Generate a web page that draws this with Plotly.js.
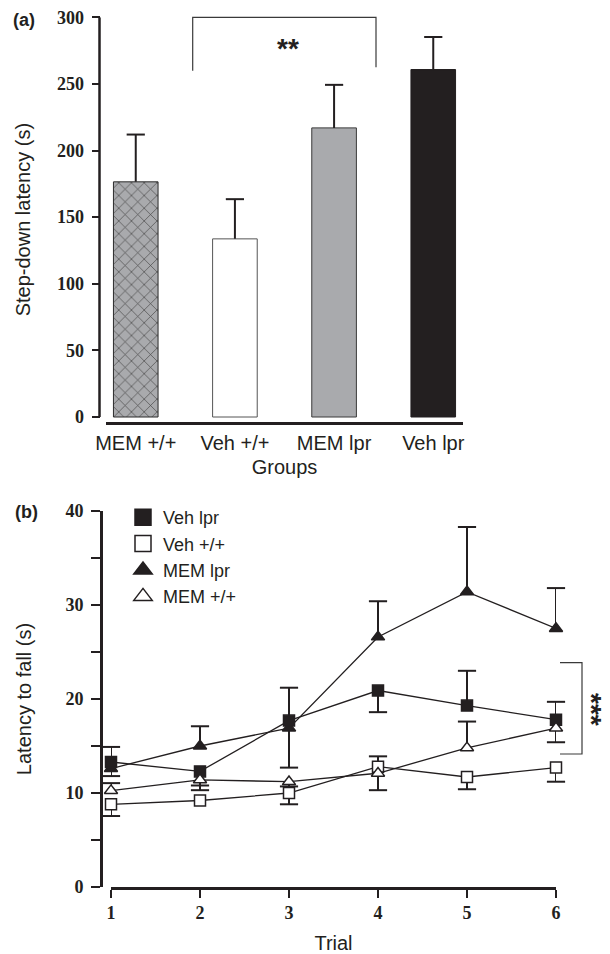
<!DOCTYPE html>
<html>
<head>
<meta charset="utf-8">
<script src="https://cdn.plot.ly/plotly-3.0.1.min.js"></script>
<style>html,body{margin:0;padding:0;background:#fff;}#chart{width:610px;height:954px;}</style>
</head>
<body>
<div id="chart"></div>
<script>
// ---------- Panel (a) data ----------
const groups = ['MEM +/+', 'Veh +/+', 'MEM lpr', 'Veh lpr'];
const stepDownLatency = [176.5, 133.7, 217.0, 260.8];
const stepDownSem = [35.5, 29.8, 32.3, 24.4];

// ---------- Panel (b) data ----------
const trials = [1, 2, 3, 4, 5, 6];
const vehLpr      = [13.3, 12.3, 17.7, 20.9, 19.3, 17.8];
const vehLprUp    = [1.6, 0, 3.5, 0, 3.7, 1.9];
const vehLprDown  = [0, 1.5, 0, 2.3, 0, 0];
const vehWt       = [8.8, 9.2, 10.0, 12.8, 11.7, 12.7];
const vehWtUp     = [0, 0, 0, 1.1, 0, 0];
const vehWtDown   = [1.25, 0, 1.2, 0, 1.3, 1.5];
const memLpr      = [12.6, 15.0, 16.9, 26.6, 31.4, 27.5];
const memLprUp    = [0, 2.1, 0, 3.8, 6.9, 4.3];
const memLprDown  = [0.8, 0, 4.2, 0, 0, 0];
const memWt       = [10.25, 11.4, 11.2, 12.1, 14.8, 16.9];
const memWtUp     = [0.8, 0, 0, 0, 2.8, 0];
const memWtDown   = [0, 1.1, 0.5, 1.8, 0, 1.5];

const INK = '#231f20';
const W = 610, H = 954;
const px = x => x / W;
const py = y => 1 - y / H;
const sans = 'Liberation Sans, Arial, sans-serif';
const serif = 'Liberation Serif, Times New Roman, serif';

const traces = [];

// Bars
traces.push({
  type: 'bar', x: groups, y: stepDownLatency, xaxis: 'x', yaxis: 'y',
  width: 0.45, showlegend: false, hoverinfo: 'skip',
  marker: {
    color: ['#a9aaad', '#ffffff', '#a9aaad', INK],
    line: {color: ['#2b2b2b', '#555555', '#3a3a3a', INK], width: 1},
    pattern: {shape: ['x', '', '', ''], fgcolor: INK, fgopacity: 1, size: 9, solidity: 0.14, fillmode: 'overlay'}
  },
  error_y: {type: 'data', symmetric: false, array: stepDownSem, arrayminus: stepDownSem.map(() => 0),
            width: 0, thickness: 2, color: INK}
});
// Bar error caps
traces.push({
  type: 'scatter', mode: 'markers', x: groups, y: stepDownLatency.map((v, i) => v + stepDownSem[i]),
  xaxis: 'x', yaxis: 'y', showlegend: false, hoverinfo: 'skip', cliponaxis: false,
  marker: {symbol: 'line-ew', size: 13, line: {color: INK, width: 2}}
});

// Error caps for panel (b)
function caps(vals, up, down) {
  const xs = [], ys = [];
  vals.forEach((v, i) => {
    if (up[i] > 0) { xs.push(trials[i]); ys.push(v + up[i]); }
    if (down[i] > 0) { xs.push(trials[i]); ys.push(v - down[i]); }
  });
  return {type: 'scatter', mode: 'markers', x: xs, y: ys, xaxis: 'x2', yaxis: 'y2',
          showlegend: false, hoverinfo: 'skip', cliponaxis: false,
          marker: {symbol: 'line-ew', size: 13, line: {color: INK, width: 2}}};
}
traces.push(caps(memLpr, memLprUp, memLprDown));
traces.push(caps(vehLpr, vehLprUp, vehLprDown));
traces.push(caps(vehWt, vehWtUp, vehWtDown));
traces.push(caps(memWt, memWtUp, memWtDown));

function series(name, vals, up, down, symbol, fill, size) {
  return {
    type: 'scatter', mode: 'lines+markers', name: name, x: trials, y: vals,
    xaxis: 'x2', yaxis: 'y2', showlegend: false, cliponaxis: false, hoverinfo: 'skip',
    line: {color: INK, width: 1.3},
    marker: {symbol: symbol, size: size, color: fill, line: {color: INK, width: 1.5}},
    error_y: {type: 'data', symmetric: false, array: up, arrayminus: down, width: 0, thickness: 2, color: INK}
  };
}
traces.push(series('MEM lpr', memLpr, memLprUp, memLprDown, 'triangle-up', INK, 11.5));
traces.push(series('Veh lpr', vehLpr, vehLprUp, vehLprDown, 'square', INK, 11));
traces.push(series('Veh +/+', vehWt, vehWtUp, vehWtDown, 'square', '#ffffff', 11));
traces.push(series('MEM +/+', memWt, memWtUp, memWtDown, 'triangle-up', '#ffffff', 11.5));

// Legend entries
function legendEntry(name, symbol, fill) {
  return {type: 'scatter', mode: 'markers', name: name, x: [null], y: [null], xaxis: 'x2', yaxis: 'y2',
          showlegend: true, hoverinfo: 'skip',
          marker: {symbol: symbol, size: 16, color: fill, line: {color: INK, width: 1.5}}};
}
traces.push(legendEntry('Veh lpr', 'square', INK));
traces.push(legendEntry('Veh +/+', 'square', '#ffffff'));
traces.push(legendEntry('MEM lpr', 'triangle-up', INK));
traces.push(legendEntry('MEM +/+', 'triangle-up', '#ffffff'));

const tickFontNum = {family: serif, size: 18, color: INK, weight: 'bold'};
const titleFont = {family: sans, size: 20, color: INK};

const layout = {
  width: W, height: H,
  margin: {l: 0, r: 0, t: 0, b: 0},
  paper_bgcolor: '#ffffff', plot_bgcolor: 'rgba(0,0,0,0)',
  font: {family: sans, color: INK},
  showlegend: true,
  legend: {x: px(123), y: py(499), xanchor: 'left', yanchor: 'top', bgcolor: 'rgba(0,0,0,0)',
           font: {family: sans, size: 18, color: INK}, tracegroupgap: 0},
  xaxis: {
    domain: [px(106), px(463)], range: [-0.3, 3.3], type: 'category', anchor: 'y',
    showline: true, linewidth: 2.5, linecolor: INK, ticks: 'outside', ticklen: 1,
    tickcolor: 'rgba(0,0,0,0)', tickfont: {family: sans, size: 20, color: INK},
    showgrid: false, zeroline: false,
    title: {text: 'Groups', font: titleFont, standoff: 8}
  },
  yaxis: {
    domain: [py(422), py(17.3)], range: [-3.75, 300], anchor: 'free', position: px(99.5),
    showline: false, ticks: 'outside', ticklen: 8, tickwidth: 2, tickcolor: INK,
    tickvals: [0, 50, 100, 150, 200, 250, 300], tickfont: tickFontNum, ticklabelstandoff: 4,
    showgrid: false, zeroline: false,
    title: {text: 'Step-down latency (s)', font: titleFont, standoff: 19}
  },
  xaxis2: {
    domain: [px(111), px(556)], range: [1, 6], anchor: 'y2',
    showline: true, linewidth: 2.5, linecolor: INK, ticks: 'outside', ticklen: 8, tickwidth: 2,
    tickcolor: INK, tickvals: trials, tickfont: tickFontNum,
    showgrid: false, zeroline: false,
    title: {text: 'Trial', font: titleFont, standoff: 14}
  },
  yaxis2: {
    domain: [py(887), py(511)], range: [0, 40], anchor: 'free', position: px(101),
    showline: true, linewidth: 2.5, linecolor: INK, ticks: 'outside', ticklen: 9, tickwidth: 2,
    tickcolor: INK, tickvals: [0, 5, 10, 15, 20, 25, 30, 35, 40],
    ticktext: ['0', '', '10', '', '20', '', '30', '', '40'], tickfont: tickFontNum, ticklabelstandoff: 4,
    showgrid: false, zeroline: false,
    title: {text: 'Latency to fall (s)', font: titleFont, standoff: 27}
  },
  shapes: [
    {type: 'line', xref: 'paper', yref: 'y', x0: px(99.5), x1: px(99.5), y0: 0, y1: 300,
     line: {color: INK, width: 2.5}},
    {type: 'path', xref: 'paper', yref: 'paper',
     path: `M ${px(192.7)},${py(70.7)} V ${py(17.3)} H ${px(376)} V ${py(67.3)}`,
     line: {color: '#3a3a3a', width: 1.2}},
    {type: 'path', xref: 'paper', yref: 'paper',
     path: `M ${px(560)},${py(662.7)} H ${px(582)} V ${py(754)} H ${px(560)}`,
     line: {color: '#3a3a3a', width: 1.2}}
  ],
  annotations: [
    {text: '(a)', xref: 'paper', yref: 'paper', x: px(11), y: py(19.5), xanchor: 'left', yanchor: 'middle',
     showarrow: false, font: {family: sans, size: 18, color: INK, weight: 'bold'}},
    {text: '(b)', xref: 'paper', yref: 'paper', x: px(13), y: py(512), xanchor: 'left', yanchor: 'middle',
     showarrow: false, font: {family: sans, size: 18, color: INK, weight: 'bold'}},
    {text: '**', xref: 'paper', yref: 'paper', x: px(288), y: py(49), xanchor: 'center', yanchor: 'middle',
     showarrow: false, font: {family: sans, size: 28, color: INK, weight: 'bold'}},
    {text: '***', xref: 'paper', yref: 'paper', x: px(592), y: py(709), xanchor: 'center', yanchor: 'middle',
     textangle: 90, showarrow: false, font: {family: sans, size: 28, color: INK, weight: 'bold'}}
  ]
};

Plotly.newPlot('chart', traces, layout, {staticPlot: true, displayModeBar: false});
</script>
</body>
</html>
